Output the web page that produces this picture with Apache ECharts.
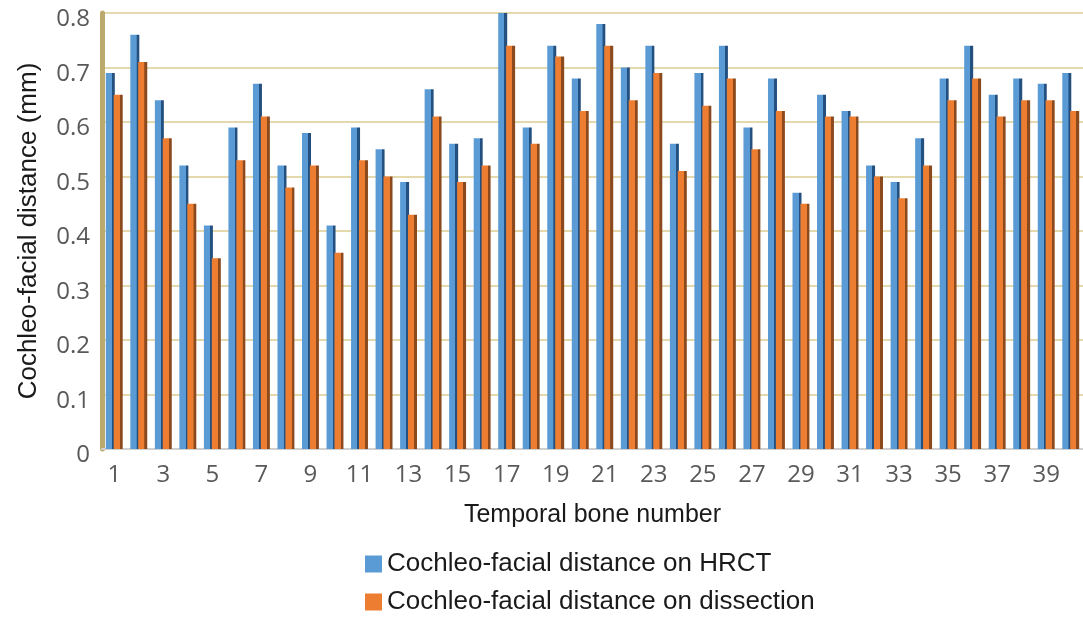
<!DOCTYPE html>
<html>
<head>
<meta charset="utf-8">
<script src="https://cdn.jsdelivr.net/npm/echarts@6/dist/echarts.min.js"></script>
<style>html,body{margin:0;padding:0;background:#fff;}#c{width:1083px;height:617px;}</style>
</head>
<body>
<div id="c"></div>
<script>
const categories = Array.from({length: 40}, (_, i) => String(i + 1));
const hrct = [0.69,0.76,0.64,0.52,0.41,0.59,0.67,0.52,0.58,0.41,
              0.59,0.55,0.49,0.66,0.56,0.57,0.80,0.59,0.74,0.68,
              0.78,0.70,0.74,0.56,0.69,0.74,0.59,0.68,0.47,0.65,
              0.62,0.52,0.49,0.57,0.68,0.74,0.65,0.68,0.67,0.69];
const dissection = [0.65,0.71,0.57,0.45,0.35,0.53,0.61,0.48,0.52,0.36,
                    0.53,0.50,0.43,0.61,0.49,0.52,0.74,0.56,0.72,0.62,
                    0.74,0.64,0.69,0.51,0.63,0.68,0.55,0.62,0.45,0.61,
                    0.61,0.50,0.46,0.52,0.64,0.68,0.61,0.64,0.64,0.62];
const seriesNames = ['Cochleo-facial distance on HRCT', 'Cochleo-facial distance on dissection'];
const xTitle = 'Temporal bone number';
const yTitle = 'Cochleo-facial distance (mm)';

function grad(main, dark) {
  return new echarts.graphic.LinearGradient(0, 0, 1, 0, [
    {offset: 0, color: main}, {offset: 0.68, color: main},
    {offset: 0.70, color: dark}, {offset: 1, color: dark}
  ]);
}
const font = '"Liberation Sans", Arial, sans-serif';
const tickFont = '"Open Sans", "Liberation Sans", sans-serif';
const legendText = {fontSize: 26, color: '#1a1a1a', fontFamily: font};
const chart = echarts.init(document.getElementById('c'));
chart.setOption({
  animation: false,
  textStyle: {fontFamily: font},
  grid: {left: 102, right: -1, top: 13, bottom: 168, containLabel: false},
  legend: [
    {orient: 'vertical', left: 360, top: 546, itemWidth: 17, itemHeight: 17,
     icon: 'rect', textStyle: legendText, itemStyle: {color: '#5b9bd5'},
     data: [{name: seriesNames[0], itemStyle: {color: '#5b9bd5'}}]},
    {orient: 'vertical', left: 360, top: 584, itemWidth: 17, itemHeight: 17,
     icon: 'rect', textStyle: legendText, itemStyle: {color: '#ed7d31'},
     data: [{name: seriesNames[1], itemStyle: {color: '#ed7d31'}}]}
  ],
  xAxis: {
    type: 'category', data: categories,
    name: xTitle, nameLocation: 'middle', nameGap: 54,
    nameTextStyle: {fontSize: 25, color: '#1a1a1a', fontFamily: font},
    axisTick: {show: false},
    axisLine: {lineStyle: {color: '#d0d0d0', width: 2}},
    axisLabel: {interval: 1, fontSize: 24, color: '#595959', margin: 14, fontFamily: tickFont}
  },
  yAxis: {
    type: 'value', min: 0, max: 0.8, interval: 0.1,
    name: yTitle, nameLocation: 'middle', nameGap: 60,
    nameTextStyle: {fontSize: 26, color: '#1a1a1a', fontFamily: font},
    axisLine: {show: true, lineStyle: {color: '#bba96e', width: 5}},
    axisTick: {show: false},
    axisLabel: {color: '#595959', margin: 12,
      formatter: v => '{a|' + (v === 0 ? '0' : v.toFixed(1)) + '}',
      rich: {a: {fontSize: 24, color: '#595959', fontFamily: tickFont, padding: [13, 0, 0, 0]}}},
    splitLine: {lineStyle: {color: '#e3d9ad', width: 2}}
  },
  series: [
    {name: seriesNames[0], type: 'bar', data: hrct, barWidth: 9, barGap: '-12%',
     itemStyle: {color: grad('#5b9bd5', '#24507f')}},
    {name: seriesNames[1], type: 'bar', data: dissection, barWidth: 9,
     itemStyle: {color: grad('#ed7d31', '#8a4a1e')}}
  ]
});
</script>
</body>
</html>
